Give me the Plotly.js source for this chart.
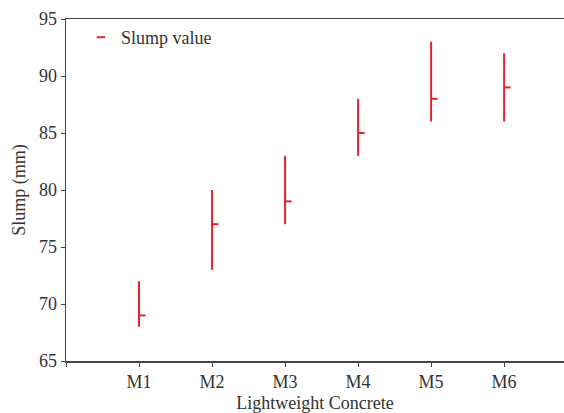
<!DOCTYPE html>
<html>
<head>
<meta charset="utf-8">
<script src="https://cdn.plot.ly/plotly-3.0.1.min.js"></script>
<style>html,body{margin:0;padding:0;background:#fff;}#chart{width:564px;height:413px;}</style>
</head>
<body>
<div id="chart"></div>
<script>
// Data
var categories = ['M1', 'M2', 'M3', 'M4', 'M5', 'M6'];
var slumpLow   = [68, 73, 77, 83, 86, 86];
var slumpHigh  = [72, 80, 83, 88, 93, 92];
var slumpValue = [69, 77, 79, 85, 88, 89];
var yTicks = [65, 70, 75, 80, 85, 90, 95];

var RED = '#e62431';
var TEXT = '#333333';
var FONT = 'Liberation Serif, Times New Roman, serif';
var FS = 18;
var CLOSE_TICK = 0.09; // length of the right-hand value tick, in category units

var xs = [], ys = [];
categories.forEach(function (c, i) {
  xs.push(i, i, null, i, i + CLOSE_TICK, null);
  ys.push(slumpLow[i], slumpHigh[i], null, slumpValue[i], slumpValue[i], null);
});

var traces = [
  {
    x: xs, y: ys, type: 'scatter', mode: 'lines',
    line: {color: RED, width: 2}, showlegend: false, hoverinfo: 'skip'
  },
  {
    x: [null], y: [null], type: 'scatter', mode: 'markers',
    name: 'Slump value',
    marker: {symbol: 'line-ew', size: 6, color: RED, line: {color: RED, width: 2}}
  }
];

var tickvals = [-1].concat(categories.map(function (c, i) { return i; }));
var ticktext = [''].concat(categories);

var layout = {
  width: 564, height: 413,
  margin: {l: 66, r: 0, t: 19, b: 52},
  paper_bgcolor: '#fff', plot_bgcolor: '#fff',
  font: {family: FONT, size: FS, color: TEXT},
  showlegend: true,
  legend: {x: 0.03, y: 1.0, xanchor: 'left', yanchor: 'top', bgcolor: 'rgba(0,0,0,0)',
           font: {family: FONT, size: FS, color: TEXT}},
  xaxis: {
    range: [-1, 5.82], tickvals: tickvals, ticktext: ticktext,
    showgrid: false, zeroline: false,
    showline: true, mirror: true, linecolor: '#444', linewidth: 1.5,
    ticks: 'outside', ticklen: 4, tickcolor: '#444', tickwidth: 1,
    tickfont: {family: FONT, size: FS, color: TEXT},
    title: {text: 'Lightweight Concrete', standoff: 8, font: {family: FONT, size: FS, color: TEXT}}
  },
  yaxis: {
    range: [65, 95], tickvals: yTicks,
    showgrid: false, zeroline: false,
    showline: true, linecolor: '#444', linewidth: 1.5,
    ticks: 'outside', ticklen: 4, tickcolor: '#444', tickwidth: 1,
    tickfont: {family: FONT, size: FS, color: TEXT},
    title: {text: 'Slump (mm)', standoff: 8, font: {family: FONT, size: FS, color: TEXT}}
  }
};

Plotly.newPlot('chart', traces, layout, {displayModeBar: false, staticPlot: true});
</script>
</body>
</html>
